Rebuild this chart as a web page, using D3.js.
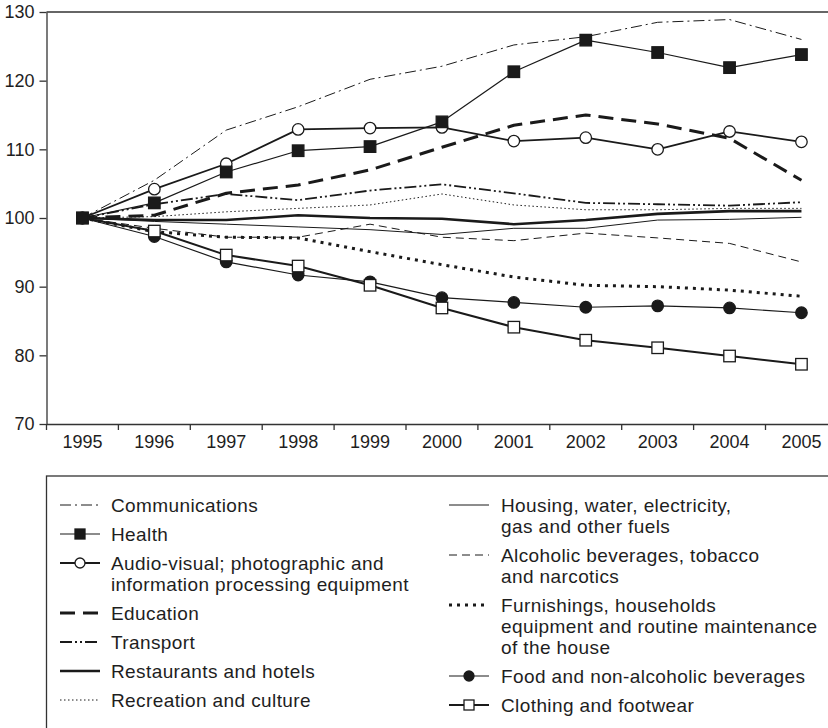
<!DOCTYPE html>
<html>
<head>
<meta charset="utf-8">
<script src="https://cdn.jsdelivr.net/npm/d3@7"></script>
<style>
  body { margin: 0; background: #fff; }
  text { font-family: "Liberation Sans", Arial, sans-serif; fill: #1e1e1e; }
</style>
</head>
<body>
<div id="chart"></div>
<script>
// data
// ---------------------------------------------------------
const years = [1995, 1996, 1997, 1998, 1999, 2000, 2001, 2002, 2003, 2004, 2005];
const yTicks = [70, 80, 90, 100, 110, 120, 130];

const communications = [100, 105.5, 112.8, 116.2, 120.2, 122.1, 125.2, 126.4, 128.5, 128.9, 126.0];
const health         = [100, 102.2, 106.7, 109.8, 110.4, 114.0, 121.3, 125.9, 124.1, 121.9, 123.8];
const audioVisual    = [100, 104.2, 107.9, 112.9, 113.1, 113.2, 111.2, 111.7, 110.0, 112.6, 111.1];
const education      = [100, 100.4, 103.6, 104.8, 107.0, 110.3, 113.5, 115.0, 113.7, 111.6, 105.5];
const transport      = [100, 102.0, 103.5, 102.6, 104.0, 104.9, 103.6, 102.2, 102.0, 101.8, 102.3];
const restaurants    = [100, 99.7, 99.7, 100.4, 100.0, 99.9, 99.1, 99.7, 100.6, 101.0, 101.0];
const recreation     = [100, 100.2, 100.9, 101.4, 101.9, 103.5, 101.9, 101.2, 101.2, 101.4, 101.4];
const housing        = [100, 99.5, 99.1, 98.7, 98.3, 97.6, 98.5, 98.5, 99.7, 99.8, 100.1];
const alcoholic      = [100, 98.5, 97.2, 97.2, 99.1, 97.2, 96.7, 97.8, 97.1, 96.3, 93.6];
const furnishings    = [100, 98.0, 97.2, 97.1, 95.1, 93.2, 91.4, 90.2, 90.0, 89.5, 88.6];
const food           = [100, 97.3, 93.6, 91.7, 90.7, 88.4, 87.7, 87.0, 87.2, 86.9, 86.2];
const clothing       = [100, 98.1, 94.6, 93.0, 90.2, 86.9, 84.1, 82.2, 81.1, 79.9, 78.7];

const leftLabels = [
    ["Communications"],
    ["Health"],
    ["Audio-visual; photographic and", "information processing equipment"],
    ["Education"],
    ["Transport"],
    ["Restaurants and hotels"],
    ["Recreation and culture"]
];
const rightLabels = [
    ["Housing, water, electricity,", "gas and other fuels"],
    ["Alcoholic beverages, tobacco", "and narcotics"],
    ["Furnishings, households", "equipment and routine maintenance", "of the house"],
    ["Food and non-alcoholic beverages"],
    ["Clothing and footwear"]
];

// styles per series
const styles = {
    communications: { w: 1, dash: "11,4,2,4" },
    health:         { w: 1.2, dash: null, marker: "square", fill: "#1a1a1a" },
    audioVisual:    { w: 1.8, dash: null, marker: "circle", fill: "#fff" },
    education:      { w: 3, dash: "15,8" },
    transport:      { w: 1.8, dash: "12,3,2,3,2,3" },
    restaurants:    { w: 2.6, dash: null },
    recreation:     { w: 1, dash: "1.5,2.5" },
    housing:        { w: 1, dash: null },
    alcoholic:      { w: 1, dash: "8,5" },
    furnishings:    { w: 3, dash: "3,5" },
    food:           { w: 1.2, dash: null, marker: "circle", fill: "#1a1a1a" },
    clothing:       { w: 2, dash: null, marker: "square", fill: "#fff" }
};

// drawing order (markers of later series sit on top)
const series = [
    { key: "communications", values: communications },
    { key: "recreation", values: recreation },
    { key: "housing", values: housing },
    { key: "alcoholic", values: alcoholic },
    { key: "furnishings", values: furnishings },
    { key: "transport", values: transport },
    { key: "restaurants", values: restaurants },
    { key: "education", values: education },
    { key: "audioVisual", values: audioVisual },
    { key: "food", values: food },
    { key: "clothing", values: clothing },
    { key: "health", values: health }
];

const leftKeys = ["communications", "health", "audioVisual", "education", "transport", "restaurants", "recreation"];
const rightKeys = ["housing", "alcoholic", "furnishings", "food", "clothing"];

// layout
// ---------------------------------------------------------
const width = 828, height = 728;
const plotLeft = 46.5, plotTop = 12, plotBottom = 424;
const bandW = 71.9;
const fontFamily = "'Liberation Sans', Arial, sans-serif";

const svg = d3.select("#chart").append("svg")
    .attr("width", width)
    .attr("height", height);

const x = d3.scaleBand()
    .domain(years)
    .range([plotLeft, plotLeft + bandW * years.length])
    .paddingInner(0).paddingOuter(0);

const y = d3.scaleLinear()
    .domain([70, 130])
    .range([plotBottom, plotTop]);

const cx = d => x(d) + x.bandwidth() / 2;

// axes
// ---------------------------------------------------------
const axisColor = "#333";

let yAxis = svg.append("g")
    .attr("transform", `translate(${plotLeft},0)`)
    .call(d3.axisLeft(y).tickValues(yTicks).tickSize(7).tickPadding(5).tickSizeOuter(0));
yAxis.select(".domain").attr("stroke", axisColor).attr("stroke-width", 1.3);
yAxis.selectAll(".tick line").attr("stroke", axisColor).attr("stroke-width", 1.3);
yAxis.selectAll(".tick text")
    .attr("font-size", 18)
    .style("font-family", fontFamily)
    .attr("fill", "#1e1e1e");

// top border
svg.append("line")
    .attr("x1", plotLeft).attr("x2", width)
    .attr("y1", plotTop).attr("y2", plotTop)
    .attr("stroke", axisColor).attr("stroke-width", 1.3);

// bottom axis: labels at band centres, ticks at band edges
let xAxis = svg.append("g")
    .attr("transform", `translate(0,${plotBottom})`)
    .call(d3.axisBottom(x).tickSize(0).tickPadding(11).tickSizeOuter(0));
xAxis.select(".domain").attr("stroke", axisColor).attr("stroke-width", 1.3);
xAxis.selectAll(".tick text")
    .attr("font-size", 18)
    .style("font-family", fontFamily)
    .attr("fill", "#1e1e1e");

xAxis.selectAll(".edge")
    .data(years)
    .enter()
    .append("line")
        .attr("class", "edge")
        .attr("x1", d => x(d)).attr("x2", d => x(d))
        .attr("y1", 0).attr("y2", 6)
        .attr("stroke", axisColor).attr("stroke-width", 1.3);

// lines
// ---------------------------------------------------------
const line = d3.line()
    .x((d, i) => cx(years[i]))
    .y(d => y(d));

svg.append("g").selectAll("path")
    .data(series)
    .enter()
    .append("path")
        .attr("d", d => line(d.values))
        .attr("fill", "none")
        .attr("stroke", "#1a1a1a")
        .attr("stroke-width", d => styles[d.key].w)
        .attr("stroke-dasharray", d => styles[d.key].dash)
        .attr("stroke-linejoin", "round");

// markers
// ---------------------------------------------------------
function drawMarker(g, type, fill, px, py, size) {
    if (type === "square") {
        g.append("rect")
            .attr("x", px - size / 2).attr("y", py - size / 2)
            .attr("width", size).attr("height", size)
            .attr("fill", fill)
            .attr("stroke", "#1a1a1a").attr("stroke-width", 1.3);
    } else {
        g.append("circle")
            .attr("cx", px).attr("cy", py)
            .attr("r", size / 2)
            .attr("fill", fill)
            .attr("stroke", "#1a1a1a").attr("stroke-width", 1.3);
    }
}

let markerG = svg.append("g");
series.filter(s => styles[s.key].marker).forEach(s => {
    s.values.forEach((v, i) => {
        drawMarker(markerG, styles[s.key].marker, styles[s.key].fill, cx(years[i]), y(v), 11.5);
    });
});

// legend
// ---------------------------------------------------------
svg.append("rect")
    .attr("x", plotLeft).attr("y", 476)
    .attr("width", width).attr("height", height)
    .attr("fill", "none")
    .attr("stroke", axisColor).attr("stroke-width", 1.3);

function legendColumn(keys, labels, sx, tx, startY) {
    let g = svg.append("g");
    let yy = startY;
    keys.forEach((k, i) => {
        let st = styles[k];
        let ly = yy;
        g.append("line")
            .attr("x1", sx).attr("x2", sx + 40)
            .attr("y1", ly).attr("y2", ly)
            .attr("stroke", "#1a1a1a")
            .attr("stroke-width", st.w)
            .attr("stroke-dasharray", st.dash);
        if (st.marker) drawMarker(g, st.marker, st.fill, sx + 20, ly, 10);
        labels[i].forEach((t, j) => {
            g.append("text")
                .attr("x", tx)
                .attr("y", ly + j * 21 + 6.5)
                .attr("font-size", 19)
                .attr("letter-spacing", 0.4)
                .text(t);
        });
        yy += (labels[i].length - 1) * 21 + 29;
    });
}

legendColumn(leftKeys, leftLabels, 60, 111, 505);
legendColumn(rightKeys, rightLabels, 449, 501, 505);
</script>
</body>
</html>
